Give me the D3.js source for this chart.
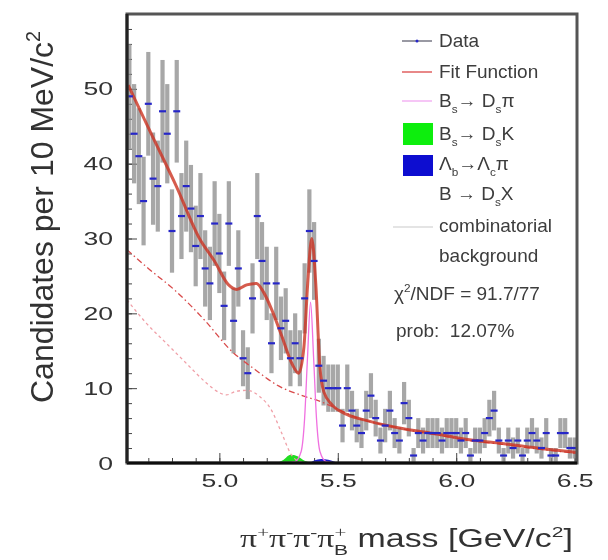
<!DOCTYPE html>
<html>
<head>
<meta charset="utf-8">
<script src="https://d3js.org/d3.v7.min.js"></script>
<style>
  body { margin: 0; background: #fff; }
  text { font-family: "Liberation Sans", Arial, sans-serif; white-space: pre; }
</style>
</head>
<body>
<div id="chart"></div>
<script>
// ---- values ----
// histogram: 20 MeV bins starting at 4.61
var binStart = 4.61, binWidth = 0.02;
var counts = [49,44,41,35,48,38,37,47,44,31, 47,33,37,34,29,33,26,24,32,28,
              21,32,19,26,14,12,22,33,27,24, 16,24,18,19,14,16,14,22,31,27,
              13,11,10,10,10,5,10,7,5,4, 7,9,6,3,5,7,4,3,8,6,
              1,4,3,4,4,4,3,4,4,4, 3,4,1,3,3,4,6,7,3,1,
              3,2,3,1,3,4,3,2,4,1, 1,4,4,2,2];

var fitCurve = [
  {x:4.615,y:50.5},{x:4.712,y:44},{x:4.818,y:37},{x:4.916,y:30},{x:4.979,y:27},
  {x:5.039,y:23.8},{x:5.073,y:23.2},{x:5.115,y:23.8},{x:5.157,y:24},{x:5.187,y:22.8},
  {x:5.221,y:20.5},{x:5.263,y:17},{x:5.306,y:13.3},{x:5.335,y:12},{x:5.357,y:15.5},
  {x:5.373,y:24},{x:5.390,y:30},{x:5.407,y:24},{x:5.424,y:13},{x:5.441,y:9.5},
  {x:5.475,y:7.8},{x:5.538,y:6.5},{x:5.632,y:5.6},{x:5.772,y:4.6},{x:5.912,y:3.9},
  {x:6.056,y:3.1},{x:6.195,y:2.6},{x:6.365,y:1.9},{x:6.51,y:1.4}
];
var combCurve = [
  {x:4.61,y:28.5},{x:4.70,y:26},{x:4.815,y:23},{x:4.94,y:19},{x:5.05,y:15},
  {x:5.15,y:12.5},{x:5.25,y:10.3},{x:5.35,y:9.0},{x:5.42,y:8.3},{x:5.50,y:7.2},
  {x:5.60,y:5.8},{x:5.70,y:5.1},{x:5.80,y:4.4},{x:5.912,y:3.8},{x:6.056,y:3.0},
  {x:6.195,y:2.5},{x:6.365,y:1.8},{x:6.51,y:1.3}
];
var dsxCurve = [
  {x:4.61,y:21.8},{x:4.691,y:18.7},{x:4.776,y:16},{x:4.861,y:13.3},{x:4.945,y:10.7},
  {x:5.0,y:9.4},{x:5.03,y:9.1},{x:5.072,y:9.6},{x:5.115,y:9.7},{x:5.17,y:8.9},
  {x:5.221,y:7.0},{x:5.263,y:4.0},{x:5.306,y:1.0},{x:5.348,y:0.1},{x:5.40,y:0}
];
var dsPiCurve = [
  {x:5.28,y:0},{x:5.32,y:0.2},{x:5.345,y:1.5},{x:5.36,y:6},{x:5.372,y:14},
  {x:5.385,y:21.5},{x:5.398,y:14},{x:5.41,y:6},{x:5.425,y:1.5},{x:5.45,y:0.2},{x:5.49,y:0}
];
var dsKCurve = [
  {x:5.24,y:0},{x:5.27,y:0.4},{x:5.30,y:1.1},{x:5.33,y:0.9},{x:5.36,y:0.3},{x:5.39,y:0}
];
var lcPiCurve = [
  {x:5.38,y:0},{x:5.40,y:0.35},{x:5.43,y:0.55},{x:5.46,y:0.45},{x:5.49,y:0.15},{x:5.51,y:0}
];

var xTicks = [5.0, 5.5, 6.0, 6.5];
var yTicks = [0, 10, 20, 30, 40, 50];

// ---- layout ----
var margin = {top: 14, right: 31, bottom: 97, left: 127},
    width = 450,
    height = 449;

var root = d3.select("#chart")
    .append("svg")
    .attr("width", 608)
    .attr("height", 560);

// the reference is a soft, slightly blurred scan
root.append("defs").append("filter").attr("id", "soft")
    .append("feGaussianBlur").attr("stdDeviation", 0.55);

var canvas = root.append("g").attr("filter", "url(#soft)");
canvas.append("rect").attr("width", 608).attr("height", 560).attr("fill", "#fff");

var svg = canvas.append("g")
    .attr("transform", "translate(" + margin.left + "," + margin.top + ")");

var x = d3.scaleLinear().domain([4.61, 6.51]).range([0, width]);
var y = d3.scaleLinear().domain([0, 60]).range([height, 0]);

svg.append("clipPath").attr("id", "plotclip")
    .append("rect").attr("width", width).attr("height", height);

// small helper for sub/superscripts
function richText(sel, parts, fs) {
  var shift = 0;
  parts.forEach(function(p) {
    var target = p.s === "sup" ? -0.42 * fs : p.s === "sub" ? 0.3 * fs : 0;
    var ts = sel.append("tspan").text(p.t).attr("dy", target - shift);
    if (p.s) ts.style("font-size", (0.62 * fs) + "px");
    if (p.dx) ts.attr("dx", p.dx);
    if (p.f) ts.style("font-family", p.f);
    shift = target;
  });
}

// ---- axes (ROOT style, ticks inside) ----
var xAxis = svg.append("g")
    .attr("transform", "translate(0," + height + ")")
    .call(d3.axisBottom(x).tickValues(xTicks).tickSizeInner(-10).tickSizeOuter(0)
        .tickPadding(11).tickFormat(d3.format(".1f")));
svg.append("g")
    .attr("transform", "translate(0," + height + ")")
    .call(d3.axisBottom(x).tickValues(d3.range(4.7, 6.51, 0.1)).tickSizeInner(-5)
        .tickSizeOuter(0).tickFormat(""))
    .select(".domain").remove();

var yAxis = svg.append("g")
    .call(d3.axisLeft(y).tickValues(yTicks).tickSizeInner(-10).tickSizeOuter(0).tickPadding(14));
svg.append("g")
    .call(d3.axisLeft(y).tickValues(d3.range(2, 60, 2)).tickSizeInner(-5)
        .tickSizeOuter(0).tickFormat(""))
    .select(".domain").remove();

svg.selectAll(".domain").remove();
svg.selectAll(".tick line").attr("stroke", "#444");

xAxis.selectAll("text")
    .style("font-size", "19px")
    .attr("fill", "#333")
    .attr("transform", "scale(1.4,1)");
yAxis.selectAll("text")
    .style("font-size", "19px")
    .attr("fill", "#333")
    .attr("x", 0)
    .attr("transform", "translate(-14,0) scale(1.4,1)");

// ---- data ----
var plot = svg.append("g").attr("clip-path", "url(#plotclip)");

var bins = counts.map(function(n, i) {
  return {x: binStart + binWidth * (i + 0.5), n: n, e: Math.sqrt(n)};
});

plot.selectAll(".err")
    .data(bins.filter(function(d) { return d.n > 0; }))
    .enter().append("rect")
    .attr("class", "err")
    .attr("x", function(d) { return x(d.x) - 2.1; })
    .attr("width", 4.2)
    .attr("y", function(d) { return y(d.n + d.e); })
    .attr("height", function(d) { return y(d.n - d.e) - y(d.n + d.e); })
    .attr("fill", "#8a8a8a")
    .attr("opacity", 0.75);

var line = d3.line()
    .x(function(d) { return x(d.x); })
    .y(function(d) { return y(d.y); })
    .curve(d3.curveMonotoneX);
var area = d3.area()
    .x(function(d) { return x(d.x); })
    .y0(y(0))
    .y1(function(d) { return y(d.y); })
    .curve(d3.curveMonotoneX);

plot.append("path").datum(dsKCurve)
    .attr("d", area).attr("fill", "#22dd22");
plot.append("path").datum(lcPiCurve)
    .attr("d", area).attr("fill", "#1a1acc");

plot.append("path").datum(dsxCurve)
    .attr("d", line)
    .attr("fill", "none")
    .attr("stroke", "#f0a0a8")
    .attr("stroke-width", 1.3)
    .style("stroke-dasharray", "3,3");

plot.append("path").datum(combCurve)
    .attr("d", line)
    .attr("fill", "none")
    .attr("stroke", "#d84a4a")
    .attr("stroke-width", 1.3)
    .style("stroke-dasharray", "6,3,1.5,3");

plot.append("path").datum(dsPiCurve)
    .attr("d", line)
    .attr("fill", "none")
    .attr("stroke", "#f070e0")
    .attr("stroke-width", 1.3);

plot.append("path").datum(fitCurve)
    .attr("d", line)
    .attr("fill", "none")
    .attr("stroke", "#cc3322")
    .attr("stroke-opacity", 0.8)
    .attr("stroke-width", 3);

plot.selectAll(".mark")
    .data(bins.filter(function(d) { return d.n > 0; }))
    .enter().append("line")
    .attr("class", "mark")
    .attr("x1", function(d) { return x(d.x) - 3.5; })
    .attr("x2", function(d) { return x(d.x) + 3.5; })
    .attr("y1", function(d) { return y(d.n); })
    .attr("y2", function(d) { return y(d.n); })
    .attr("stroke", "#2828c8")
    .attr("stroke-width", 2.2);

// ---- frame ----
svg.append("rect")
    .attr("width", width).attr("height", height)
    .attr("fill", "none")
    .attr("stroke", "#555")
    .attr("stroke-width", 3);
svg.append("line")
    .attr("x1", 0).attr("x2", width).attr("y1", height).attr("y2", height)
    .attr("stroke", "#111").attr("stroke-width", 3);
svg.append("line")
    .attr("x1", 0).attr("x2", 0).attr("y1", 0).attr("y2", height)
    .attr("stroke", "#222").attr("stroke-width", 3);

// ---- axis titles ----
var yTitle = canvas.append("text")
    .attr("transform", "translate(53,403) rotate(-90)")
    .style("font-size", "32px")
    .attr("fill", "#333");
richText(yTitle, [{t: "Candidates per 10 MeV/c"}, {t: "2", s: "sup"}], 32);

var xTitle = canvas.append("text")
    .style("font-size", "25px")
    .attr("fill", "#333");
var serif = "'Liberation Serif', 'Times New Roman', serif";
richText(xTitle, [
  {t: "π", f: serif}, {t: "+", s: "sup", f: serif},
  {t: "π", f: serif}, {t: "-", s: "sup", f: serif},
  {t: "π", f: serif}, {t: "-", s: "sup", f: serif},
  {t: "π", f: serif}, {t: "+", s: "sup", f: serif}, {t: "B", s: "sub", dx: -9},
  {t: " mass [GeV/c"}, {t: "2", s: "sup"}, {t: "]"}
], 25);
var xb = xTitle.node().getBBox();
xTitle.attr("transform", "translate(240,547) scale(" + (333 / xb.width) + ",1)");

// ---- legend ----
var leg = canvas.append("g").style("font-size", "19px").attr("fill", "#3c3c3c");

leg.append("line").attr("x1", 402).attr("x2", 432).attr("y1", 41).attr("y2", 41)
    .attr("stroke", "#556").attr("stroke-width", 1.2);
leg.append("circle").attr("cx", 417).attr("cy", 41).attr("r", 1.5).attr("fill", "#2828c8");
leg.append("text").attr("x", 439).attr("y", 47).text("Data");

leg.append("line").attr("x1", 402).attr("x2", 432).attr("y1", 72).attr("y2", 72)
    .attr("stroke", "#e06060").attr("stroke-width", 1.5);
leg.append("text").attr("x", 439).attr("y", 78).text("Fit Function");

leg.append("line").attr("x1", 402).attr("x2", 432).attr("y1", 101).attr("y2", 101)
    .attr("stroke", "#f0a0f0").attr("stroke-width", 1.2);
richText(leg.append("text").attr("x", 439).attr("y", 107),
    [{t: "B"}, {t: "s", s: "sub"}, {t: "→ D"}, {t: "s", s: "sub"}, {t: "π"}], 19);

leg.append("rect").attr("x", 403).attr("y", 123).attr("width", 30).attr("height", 22)
    .attr("fill", "#11ee11");
richText(leg.append("text").attr("x", 439).attr("y", 140),
    [{t: "B"}, {t: "s", s: "sub"}, {t: "→ D"}, {t: "s", s: "sub"}, {t: "K"}], 19);

leg.append("rect").attr("x", 403).attr("y", 155).attr("width", 30).attr("height", 21)
    .attr("fill", "#0a0ad0");
richText(leg.append("text").attr("x", 439).attr("y", 170),
    [{t: "Λ"}, {t: "b", s: "sub"}, {t: "→Λ"}, {t: "c", s: "sub"}, {t: "π"}], 19);

richText(leg.append("text").attr("x", 439).attr("y", 200),
    [{t: "B → D"}, {t: "s", s: "sub"}, {t: "X"}], 19);

leg.append("line").attr("x1", 393).attr("x2", 433).attr("y1", 227).attr("y2", 227)
    .attr("stroke", "#e4e4e4").attr("stroke-width", 2);
leg.append("text").attr("x", 439).attr("y", 232).text("combinatorial");
leg.append("text").attr("x", 439).attr("y", 262).text("background");

richText(leg.append("text").attr("x", 394).attr("y", 300),
    [{t: "χ"}, {t: "2", s: "sup"}, {t: "/NDF = 91.7/77"}], 19);
leg.append("text").attr("x", 396).attr("y", 337).text("prob:  12.07%");
</script>
</body>
</html>
